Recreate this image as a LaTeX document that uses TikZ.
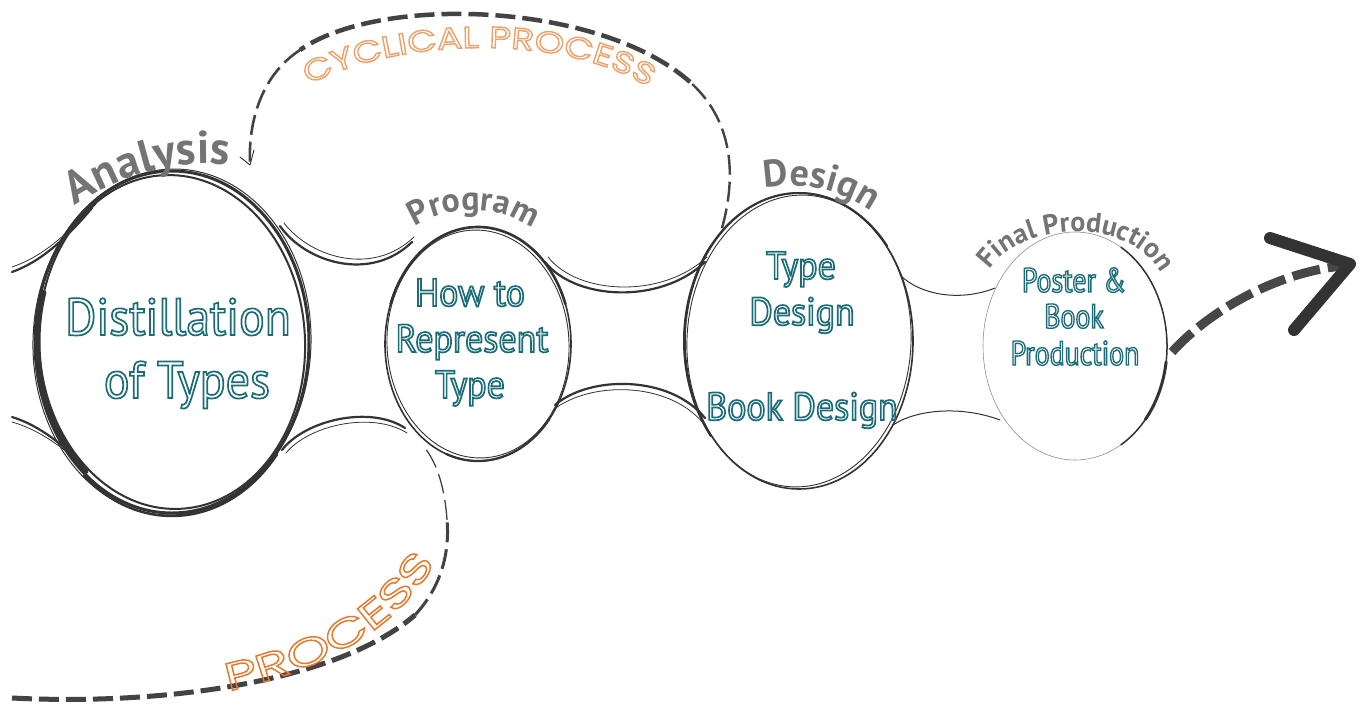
\documentclass[tikz,border=0pt]{standalone}
\usepackage{fontspec}
\usetikzlibrary{shapes.geometric,decorations.text}
\setmainfont{PT Sans}
\newfontfamily\labfontn{PT Sans}
\newfontfamily\tealfont[FakeStretch=0.92]{PT Sans}
\newfontfamily\tealnarrow[FakeStretch=0.82]{PT Sans}
\newfontfamily\wideA[FakeStretch=1.25]{Poppins}
\newfontfamily\wideB[FakeStretch=1.45]{Poppins}
\definecolor{inkc}{HTML}{333333}
\definecolor{tealc}{HTML}{1C6C78}
\definecolor{labg}{HTML}{747474}
\definecolor{orA}{HTML}{F0A066}
\definecolor{orB}{HTML}{E37A30}
\newcommand\strokedtext[2]{\special{pdf:literal direct 1 Tr #1 w}#2\special{pdf:literal direct 0 Tr}}
\newcommand\tout[1]{\strokedtext{1.7}{#1}}
\newcommand\toutb[1]{\strokedtext{1.35}{#1}}
\newcommand\ocharA[1]{\strokedtext{1.4}{#1}}
\newcommand\ocharB[1]{\strokedtext{1.5}{#1}}
\begin{document}
\begin{tikzpicture}[x=1pt,y=-1pt,
  sk/.style={draw=inkc, line cap=round, line join=round},
  bridge/.style={sk, line width=2.2pt},
  thinb/.style={sk, line width=0.8pt},
  ring/.style={ellipse, inner sep=0pt, draw=inkc},
  brushdash/.style={draw=inkc, draw opacity=0.92, dash pattern=on 20pt off 7pt},
  tealtxt/.style={anchor=base, inner sep=0pt, text=tealc},
  labpath/.style={decorate, decoration={text along path, text align=center, text color=labg, text={#1}}},
]
\fill[white] (0,0) rectangle (1362,715);
\useasboundingbox (0,0) rectangle (1362,715);

% ---------- bubbles ----------
\node[ring, minimum width=274pt, minimum height=342pt, line width=3pt] (E1) at (172,342) {};
\draw[sk, line width=2pt, rotate around={3:(E1.center)}] (E1.center) ellipse [x radius=133, y radius=167];
\draw[sk, line width=1pt, rotate around={-2:(E1.center)}] (E1.center) ellipse [x radius=139, y radius=173];
\draw[sk, line width=5pt] (E1.center) ++(130:134 and 169) arc [start angle=130, end angle=197, x radius=134, y radius=169];
\draw[sk, line width=2.4pt] ([yshift=-2pt]E1.center) ++(40:137 and 172) arc [start angle=40, end angle=130, x radius=137, y radius=172];

\node[ring, minimum width=186pt, minimum height=234pt, line width=1.6pt] (E2) at (478,344) {};
\draw[sk, line width=0.9pt, rotate around={3:(E2.center)}] (E2.center) ellipse [x radius=91, y radius=114];
\draw[sk, line width=2.6pt] (E2.center) ++(-160:93 and 117) arc [start angle=-160, end angle=-20, x radius=93, y radius=117];
\draw[sk, line width=2.2pt] (E2.center) ++(40:93 and 117) arc [start angle=40, end angle=110, x radius=93, y radius=117];

\node[ring, minimum width=228pt, minimum height=296pt, line width=1.6pt] (E3) at (799,341) {};
\draw[sk, line width=0.9pt, rotate around={-3:(E3.center)}] (E3.center) ellipse [x radius=112, y radius=146];
\draw[sk, line width=2pt] (E3.center) ++(140:115 and 148) arc [start angle=140, end angle=220, x radius=115, y radius=148];
\draw[sk, line width=2pt] (E3.center) ++(-150:115 and 148) arc [start angle=-150, end angle=-40, x radius=115, y radius=148];

\node[ring, minimum width=184pt, minimum height=228pt, line width=0.6pt, draw=inkc!55] (E4) at (1075,346) {};
\draw[sk, line width=1.5pt] (E4.center) ++(-60:92 and 114) arc [start angle=-60, end angle=60, x radius=92, y radius=114];
\draw[sk, line width=3pt] (E4.center) ++(8:92 and 114) arc [start angle=8, end angle=40, x radius=92, y radius=114];

% ---------- bridges ----------
\draw[bridge] (12,272) .. controls (40,262) and (65,240) .. (92,208);
\draw[thinb] (12,267) .. controls (42,257) and (66,235) .. (96,204);
\draw[bridge] (12,417) .. controls (35,424) and (58,440) .. (80,462);
\draw[thinb] (12,422) .. controls (37,429) and (60,445) .. (84,466);

\draw[bridge] (280,226) .. controls (305,262) and (370,283) .. (412,242);
\draw[thinb] (284,223) .. controls (310,257) and (372,277) .. (414,237);
\draw[bridge] (282,450) .. controls (305,420) and (370,405) .. (405,428);
\draw[thinb] (286,453) .. controls (309,425) and (372,411) .. (407,433);

\draw[bridge] (545,262) .. controls (575,300) and (660,305) .. (705,262);
\draw[thinb] (548,257) .. controls (578,295) and (662,299) .. (707,257);
\draw[bridge] (555,405) .. controls (590,375) and (670,375) .. (705,418);
\draw[thinb] (553,410) .. controls (590,381) and (668,381) .. (703,423);

\draw[sk, line width=1pt] (900,275) .. controls (920,295) and (960,302) .. (995,288);
\draw[sk, line width=1pt] (893,425) .. controls (915,410) and (960,405) .. (1000,420);

% ---------- cyclical arc ----------
\coordinate (cycS) at (722,228);
\coordinate (cycA) at (690,82);
\coordinate (cycB) at (300,50);
\coordinate (cycT) at (250,165);
\draw[brushdash, line width=2.4pt] (cycS) .. controls (734,185) and (738,125) .. (cycA);
\draw[brushdash, line width=4.5pt] (cycA) .. controls (600,2) and (380,-6) .. (cycB);
\draw[brushdash, line width=2.6pt] (cycB) .. controls (262,75) and (248,120) .. (cycT);
\draw[sk, line width=0.9pt] ([shift={(-10,-8)}]cycT) -- (cycT) -- ([shift={(4,-15)}]cycT);

% ---------- process curve ----------
\coordinate (prS) at (12,698);
\coordinate (prA) at (415,615);
\coordinate (prB) at (447,520);
\coordinate (prE) at (425,448);
\draw[brushdash, line width=5pt] (prS) .. controls (170,706) and (340,680) .. (prA);
\draw[brushdash, line width=3pt] (prA) .. controls (440,588) and (450,555) .. (prB);
\draw[brushdash, line width=1.3pt] (prB) .. controls (445,490) and (438,465) .. (prE);

% ---------- exit arrow ----------
\coordinate (arS) at (1172,352);
\coordinate (arE) at (1342,266);
\draw[draw=inkc, draw opacity=0.9, line width=9pt, dash pattern=on 28pt off 8pt] (arS) .. controls (1212,308) and (1280,272) .. (arE);
\coordinate (chA) at (1270,238);
\coordinate (chT) at (1350,264);
\coordinate (chB) at (1294,330);
\draw[draw=inkc, line width=12pt, line cap=round, line join=round] (chA) -- (chT) -- (chB);

% ---------- stage labels ----------
\path[labpath={|\labfontn\bfseries\fontsize{46}{46}\selectfont|Analysis}] (62,214) .. controls (118,174) and (185,154) .. (244,168);
\path[labpath={|\labfontn\bfseries\fontsize{34}{34}\selectfont|Program}] (408,232) .. controls (440,204) and (505,202) .. (539,234);
\path[labpath={|\labfontn\bfseries\fontsize{38}{38}\selectfont|Design}] (754,191) .. controls (796,179) and (843,188) .. (880,218);
\path[labpath={|\labfontn\bfseries\fontsize{28}{28}\selectfont|Final Production}] (986,276) .. controls (1010,224) and (1132,208) .. (1164,280);

% ---------- orange process labels ----------
\path[decorate, decoration={text effects along path, text={CYCLICAL{\ }PROCESS}, text align=center,
  text effects/.cd, text along path, character command=\ocharA,
  every character/.style={font=\wideA\fontsize{30}{30}\selectfont, text=orA, inner sep=0pt, anchor=base}}]
  (290,96) .. controls (378,35) and (580,27) .. (666,100);
\path[decorate, decoration={text effects along path, text={PROCESS}, text align=center,
  text effects/.cd, text along path, character command=\ocharB,
  every character/.style={font=\wideB\fontsize{39}{39}\selectfont, text=orB, inner sep=0pt, anchor=base}}]
  (214,694) .. controls (322,673) and (404,628) .. (442,550);

% ---------- bubble texts ----------
\node[tealtxt, font=\tealfont\fontsize{52}{52}\selectfont] (t1a) at (178,335) {\tout{Distillation}};
\node[tealtxt, font=\tealfont\fontsize{52}{52}\selectfont] (t1b) at (187,398) {\tout{of Types}};
\node[tealtxt, font=\tealfont\fontsize{39}{39}\selectfont] (t2a) at (470,306) {\tout{How to}};
\node[tealtxt, font=\tealfont\fontsize{39}{39}\selectfont] (t2b) at (472,352) {\tout{Represent}};
\node[tealtxt, font=\tealfont\fontsize{39}{39}\selectfont] (t2c) at (470,398) {\tout{Type}};
\node[tealtxt, font=\tealfont\fontsize{39}{39}\selectfont] (t3a) at (801,279) {\tout{Type}};
\node[tealtxt, font=\tealfont\fontsize{39}{39}\selectfont] (t3b) at (802,325) {\tout{Design}};
\node[tealtxt, font=\tealfont\fontsize{39}{39}\selectfont] (t3c) at (802,420) {\tout{Book Design}};
\node[tealtxt, font=\tealnarrow\fontsize{34}{34}\selectfont] (t4a) at (1074,292) {\toutb{Poster \&}};
\node[tealtxt, font=\tealnarrow\fontsize{34}{34}\selectfont] (t4b) at (1074,328) {\toutb{Book}};
\node[tealtxt, font=\tealnarrow\fontsize{34}{34}\selectfont] (t4c) at (1075,365) {\toutb{Production}};
\end{tikzpicture}
\end{document}
